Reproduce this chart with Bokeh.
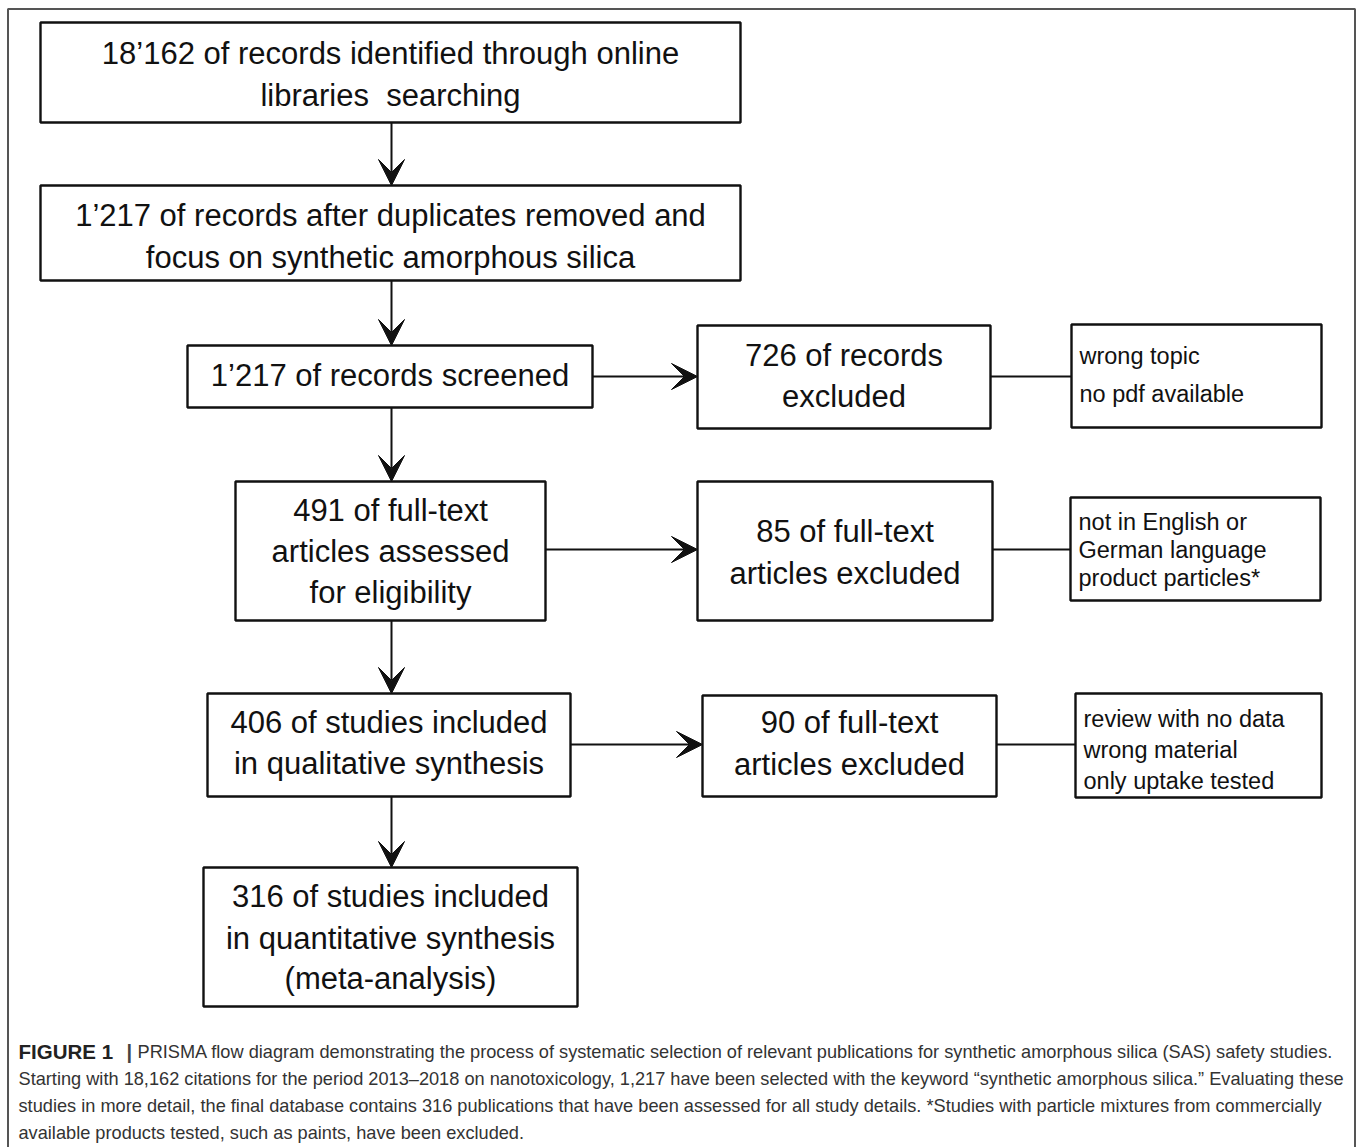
from bokeh.plotting import figure
from bokeh.models import Range1d, Arrow, VeeHead
from bokeh.core.properties import value
from bokeh.embed import file_html
from bokeh.resources import INLINE

# ---- content ----
main_labels = [
    ["18’162 of records identified through online", "libraries\u00a0 searching"],
    ["1’217 of records after duplicates removed and", "focus on synthetic amorphous silica"],
    ["1’217 of records screened"],
    ["491 of full-text", "articles assessed", "for eligibility"],
    ["406 of studies included", "in qualitative synthesis"],
    ["316 of studies included", "in quantitative synthesis", "(meta-analysis)"],
]
excluded_labels = [
    ["726 of records", "excluded"],
    ["85 of full-text", "articles excluded"],
    ["90 of full-text", "articles excluded"],
]
reason_labels = [
    ["wrong topic", "no pdf available"],
    ["not in English or", "German language", "product particles*"],
    ["review with no data", "wrong material", "only uptake tested"],
]
caption_head = "FIGURE 1"
caption_lines = [
    "PRISMA flow diagram demonstrating the process of systematic selection of relevant publications for synthetic amorphous silica (SAS) safety studies.",
    "Starting with 18,162 citations for the period 2013–2018 on nanotoxicology, 1,217 have been selected with the keyword “synthetic amorphous silica.” Evaluating these",
    "studies in more detail, the final database contains 316 publications that have been assessed for all study details. *Studies with particle mixtures from commercially",
    "available products tested, such as paints, have been excluded.",
]

# ---- layout (picture pixel coordinates) ----
main_boxes = [(40, 740, 22, 122), (40, 740, 185, 280), (187, 592, 345, 407),
              (235, 545, 481, 620), (207, 570, 693, 796), (203, 577, 867, 1006)]
main_ys = [[53, 95], [215, 257], [375], [510, 551, 592], [722, 763], [896, 938, 978]]
excl_boxes = [(697, 990, 325, 428), (697, 992, 481, 620), (702, 996, 695, 796)]
excl_ys = [[355, 396], [531, 573], [722, 764]]
reason_boxes = [(1071, 1321, 324, 427), (1070, 1320, 497, 600), (1075, 1321, 693, 797)]
reason_ys = [[355, 393], [521, 549, 577], [718, 749, 780]]
conn_ys = [376, 549, 744]
conn_main = [2, 3, 4]
arrow_x = 391
cap_ys = [1051, 1078, 1105, 1132]

FONT = value("Liberation Sans")
INK = "#111111"

W, H = 1358, 1147
p = figure(width=W, height=H, output_backend="svg", toolbar_location=None,
           x_range=Range1d(0, W), y_range=Range1d(H, 0),
           min_border=0, outline_line_color=None)
p.axis.visible = False
p.grid.visible = False
p.background_fill_color = "white"
p.border_fill_color = "white"

# outer frame
p.line([7.5, 7.5, 1354.5, 1354.5], [H, 8.5, 8.5, H], line_color="#555555", line_width=2)

def boxes(bxs):
    p.quad(left=[b[0] for b in bxs], right=[b[1] for b in bxs],
           top=[b[2] for b in bxs], bottom=[b[3] for b in bxs],
           fill_color=None, line_color=INK, line_width=2.4)

boxes(main_boxes)
boxes(excl_boxes)
boxes(reason_boxes)

def head():
    return VeeHead(size=26, fill_color=INK, line_color=INK, line_width=1)

# vertical arrows
for i in range(len(main_boxes) - 1):
    p.add_layout(Arrow(end=head(), x_start=arrow_x, y_start=main_boxes[i][3],
                       x_end=arrow_x, y_end=main_boxes[i + 1][2],
                       line_color=INK, line_width=2))
# horizontal arrows and lines
for k, y in enumerate(conn_ys):
    mb = main_boxes[conn_main[k]]
    eb = excl_boxes[k]
    rb = reason_boxes[k]
    p.add_layout(Arrow(end=head(), x_start=mb[1], y_start=y, x_end=eb[0], y_end=y,
                       line_color=INK, line_width=2))
    p.line([eb[1], rb[0]], [y, y], line_color=INK, line_width=2)

# texts
for b, lines, ys in zip(main_boxes, main_labels, main_ys):
    cx = (b[0] + b[1]) / 2
    p.text(x=[cx] * len(lines), y=ys, text=lines, text_align="center", text_baseline="middle",
           text_font=FONT, text_font_size="31px", text_color=INK)
for b, lines, ys in zip(excl_boxes, excluded_labels, excl_ys):
    cx = (b[0] + b[1]) / 2
    p.text(x=[cx] * len(lines), y=ys, text=lines, text_align="center", text_baseline="middle",
           text_font=FONT, text_font_size="31px", text_color=INK)
for b, lines, ys in zip(reason_boxes, reason_labels, reason_ys):
    p.text(x=[b[0] + 8] * len(lines), y=ys, text=lines, text_align="left", text_baseline="middle",
           text_font=FONT, text_font_size="23.5px", text_color=INK)

# caption
p.text(x=[18], y=[cap_ys[0]], text=[caption_head], text_align="left", text_baseline="middle",
       text_font=FONT, text_font_size="20.5px", text_font_style="bold", text_color="#222222")
p.text(x=[126], y=[cap_ys[0]], text=["|"], text_align="left", text_baseline="middle",
       text_font=FONT, text_font_size="20px", text_font_style="bold", text_color="#444444")
p.text(x=[137] + [18] * 3, y=cap_ys, text=caption_lines, text_align="left", text_baseline="middle",
       text_font=FONT, text_font_size="18.2px", text_color="#333333")

open("out.html", "w").write(file_html(p, INLINE))
